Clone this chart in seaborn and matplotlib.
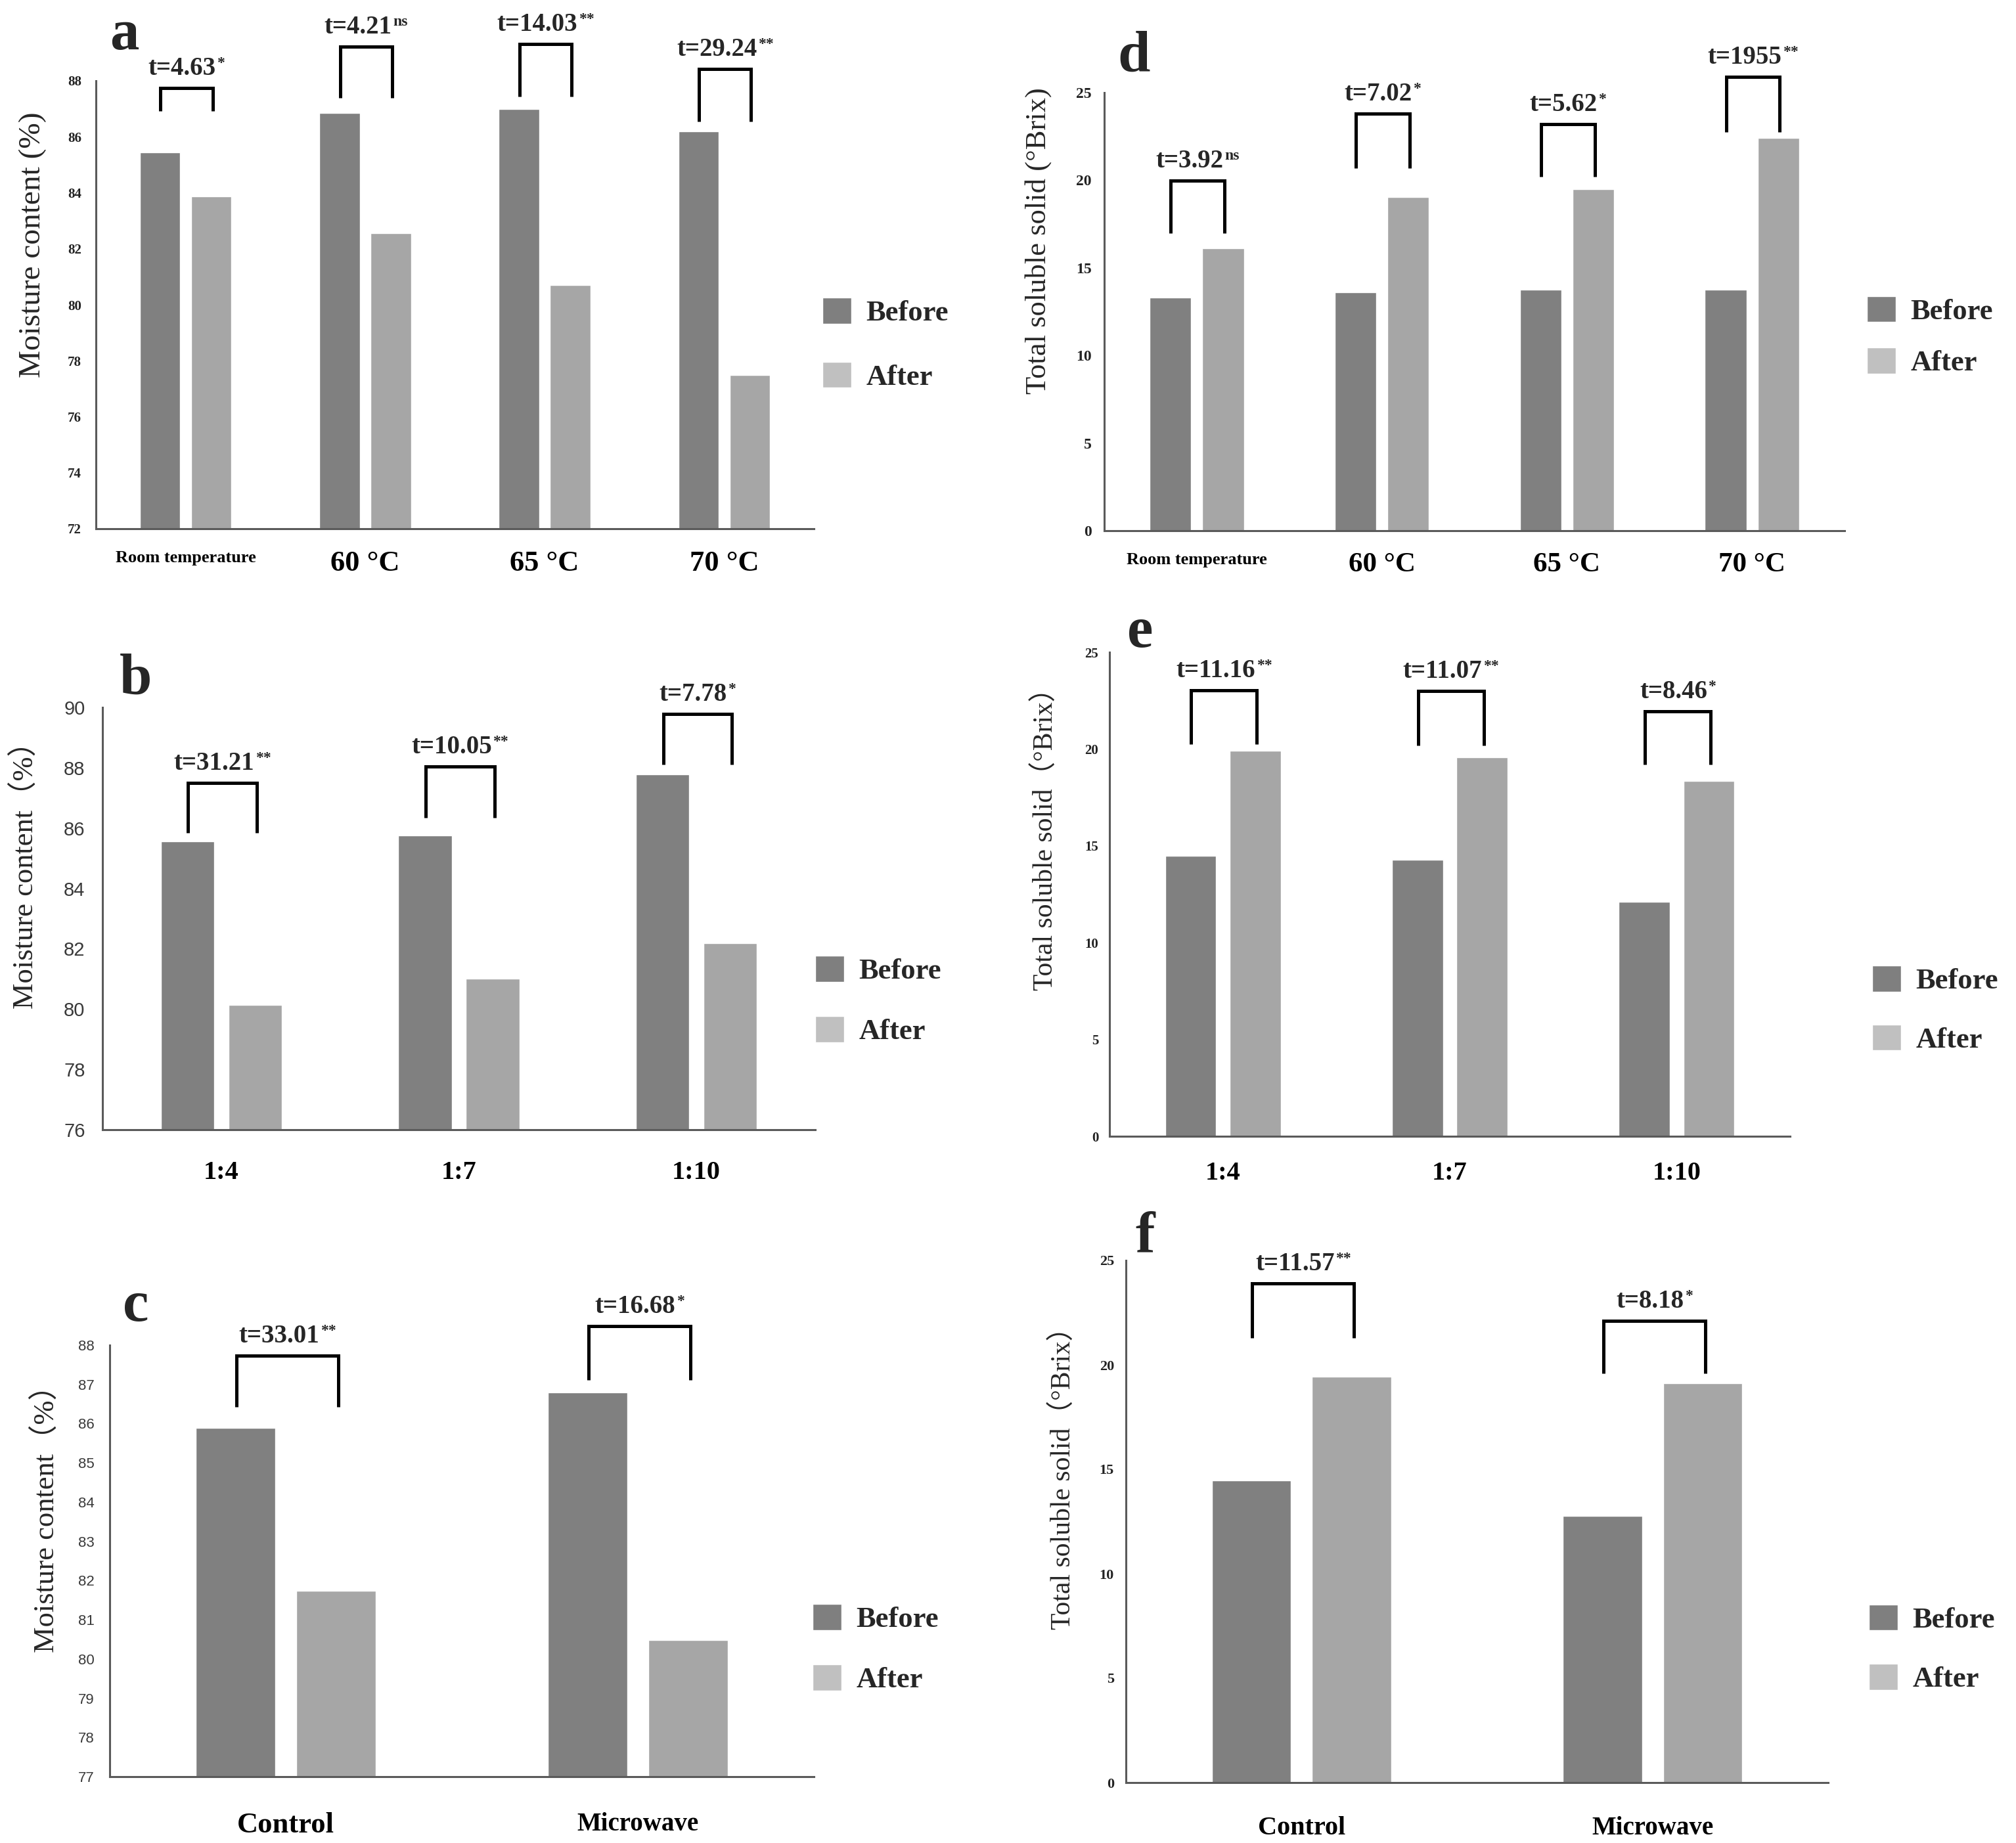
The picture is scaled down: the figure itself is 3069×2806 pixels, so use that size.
import pandas as pd
import matplotlib.pyplot as plt
import seaborn as sns
from matplotlib.patches import Patch
from matplotlib.offsetbox import TextArea, HPacker, AnnotationBbox

# ---- data ----
temp_cats = ['Room temperature', '60 °C', '65 °C', '70 °C']
ratio_cats = ['1:4', '1:7', '1:10']
method_cats = ['Control', 'Microwave']

# moisture content (%)
a_before = [85.44, 86.86, 86.99, 86.20]
a_after = [83.87, 82.55, 80.70, 77.49]
b_before = [85.56, 85.75, 87.78]
b_after = [80.13, 81.00, 82.18]
c_before = [85.89, 86.80]
c_after = [81.73, 80.49]

# total soluble solid (°Brix)
d_before = [13.29, 13.60, 13.76, 13.76]
d_after = [16.13, 19.03, 19.48, 22.43]
e_before = [14.48, 14.29, 12.10]
e_after = [19.92, 19.58, 18.36]
f_before = [14.48, 12.77]
f_after = [19.43, 19.11]

# t statistics and significance marks
a_t = ['4.63', '4.21', '14.03', '29.24']
a_sig = ['*', 'ns', '**', '**']
b_t = ['31.21', '10.05', '7.78']
b_sig = ['**', '**', '*']
c_t = ['33.01', '16.68']
c_sig = ['**', '*']
d_t = ['3.92', '7.02', '5.62', '1955']
d_sig = ['ns', '*', '*', '**']
e_t = ['11.16', '11.07', '8.46']
e_sig = ['**', '**', '*']
f_t = ['11.57', '8.18']
f_sig = ['**', '*']

# bracket levels (top bar / bottom of legs), in data units
a_brk = ([87.74, 89.22, 89.31, 88.42], [86.92, 87.39, 87.44, 86.55])
b_brk = ([87.50, 88.04, 89.78], [85.84, 86.34, 88.10])
c_brk = ([87.73, 88.48], [86.43, 87.11])
d_brk = ([19.96, 23.80, 23.20, 25.90], [16.98, 20.70, 20.20, 22.75])
e_brk = ([23.03, 23.00, 21.95], [20.25, 20.20, 19.20])
f_brk = ([23.90, 22.10], [21.30, 19.60])

sns.set_style('white')
plt.rcParams['font.family'] = ['Liberation Serif', 'Noto Sans CJK SC', 'DejaVu Sans']

W, H = 3069, 2806
fig = plt.figure(figsize=(W / 100, H / 100), dpi=100)


def box(left, top, right, bottom):
    return [left / W, 1 - bottom / H, (right - left) / W, (bottom - top) / H]


palette = {'Before': '#808080', 'After': '#a6a6a6'}


def t_label(ax, x, y, tval, sig):
    main = TextArea('t=' + tval, textprops=dict(fontsize=28, fontweight='bold'))
    sup = TextArea(sig, textprops=dict(fontsize=17, fontweight='bold'))
    pack = HPacker(children=[main, sup], align='top', pad=0, sep=1)
    ab = AnnotationBbox(pack, (x, y), xybox=(0, 8), xycoords='data',
                        boxcoords='offset points', box_alignment=(0.5, 0),
                        frameon=False, pad=0, annotation_clip=False)
    ax.add_artist(ab)


def panel(rect, cats, before, after, ylim, yticks, tvals, sigs, brk,
          letter, letter_xy, ylabel, ylabel_xy, ylabel_size,
          leg_xy, leg_space, xsizes, xpad, ytick_font, ytick_size, ypad):
    ax = fig.add_axes(rect)
    n = len(cats)
    df = pd.DataFrame({
        'cat': cats * 2,
        'group': ['Before'] * n + ['After'] * n,
        'value': before + after,
    })
    sns.barplot(data=df, x='cat', y='value', hue='group', order=cats,
                hue_order=['Before', 'After'], palette=palette,
                width=0.57, gap=0.21, errorbar=None, legend=False, ax=ax,
                saturation=1)
    ax.set_xlim(-0.5, n - 0.5)
    ax.set_ylim(*ylim)
    ax.set_yticks(yticks)
    ax.set_xlabel('')
    ax.set_ylabel('')
    sns.despine(ax=ax)
    for s in ['left', 'bottom']:
        ax.spines[s].set_color('#5a5a5a')
        ax.spines[s].set_linewidth(2.2)
    ax.tick_params(axis='both', length=0)
    ax.tick_params(axis='x', pad=xpad)
    ax.tick_params(axis='y', pad=ypad)
    for lab, sz in zip(ax.get_xticklabels(), xsizes):
        lab.set_fontsize(sz)
        lab.set_fontweight('bold')
        lab.set_color('black')
    for lab in ax.get_yticklabels():
        lab.set_fontsize(ytick_size)
        if ytick_font == 'serif':
            lab.set_fontweight('bold')
            lab.set_color('#222222')
        else:
            lab.set_family(['Liberation Sans'])
            lab.set_color('#3a3a3a')

    # significance brackets
    tops, bots = brk
    for i in range(n):
        x0, x1 = i - 0.14, i + 0.15
        ax.plot([x0, x0, x1, x1], [bots[i], tops[i], tops[i], bots[i]],
                color='black', lw=3.6, clip_on=False,
                solid_joinstyle='miter', solid_capstyle='butt')
        t_label(ax, (x0 + x1) / 2, tops[i], tvals[i], sigs[i])

    fig.text(letter_xy[0] / W, 1 - letter_xy[1] / H, letter, fontsize=64,
             fontweight='bold', ha='left', va='baseline')
    fig.text(ylabel_xy[0] / W, 1 - ylabel_xy[1] / H, ylabel, rotation=90,
             fontsize=ylabel_size, ha='center', va='center')

    handles = [Patch(facecolor='#7f7f7f'), Patch(facecolor='#c0c0c0')]
    fig.legend(handles, ['Before', 'After'], loc='center left',
               bbox_to_anchor=(leg_xy[0] / W, 1 - leg_xy[1] / H),
               frameon=False, borderpad=0, borderaxespad=0,
               handlelength=1.0, handleheight=1.0, handletextpad=0.5,
               labelspacing=leg_space, prop={'size': 32, 'weight': 'bold'})
    return ax


panel(box(146, 123, 1239, 805), temp_cats, a_before, a_after, (72, 88),
      range(72, 89, 2), a_t, a_sig, a_brk, 'a', (167, 75),
      'Moisture content (%)', (50, 373), 34, (1252, 524), 1.2,
      [19, 32, 32, 32], 24, 'serif', 15, 16)

panel(box(1681, 141, 2808, 808), temp_cats, d_before, d_after, (0, 25),
      range(0, 26, 5), d_t, d_sig, d_brk, 'd', (1701, 109),
      'Total soluble solid (°Brix)', (1581, 367), 32, (2842, 512), 0.78,
      [19, 31, 31, 31], 24, 'serif', 17, 14)

panel(box(156, 1077, 1241, 1720), ratio_cats, b_before, b_after, (76, 90),
      range(76, 91, 2), b_t, b_sig, b_brk, 'b', (182, 1057),
      'Moisture content（%）', (38, 1321), 32, (1241, 1523), 1.08,
      [29, 29, 29], 34, 'sans', 21, 19)

panel(box(1689, 993, 2725, 1730), ratio_cats, e_before, e_after, (0, 25),
      range(0, 26, 5), e_t, e_sig, e_brk, 'e', (1716, 985),
      'Total soluble solid（°Brix）', (1591, 1267), 30, (2850, 1537), 1.02,
      [29, 29, 29], 27, 'serif', 15, 12)

panel(box(167, 2048, 1239, 2705), method_cats, c_before, c_after, (77, 88),
      range(77, 89, 1), c_t, c_sig, c_brk, 'c', (187, 2011),
      'Moisture content（%）', (70, 2302), 32, (1237, 2510), 1.08,
      [32, 28], 39, 'sans', 16, 17)

panel(box(1714, 1919, 2783, 2714), method_cats, f_before, f_after, (0, 25),
      range(0, 26, 5), f_t, f_sig, f_brk, 'f', (1728, 1905),
      'Total soluble solid（°Brix）', (1618, 2240), 30, (2845, 2510), 1.05,
      [29, 28], 37, 'serif', 16, 13)

fig.savefig('out.png', dpi=100)
